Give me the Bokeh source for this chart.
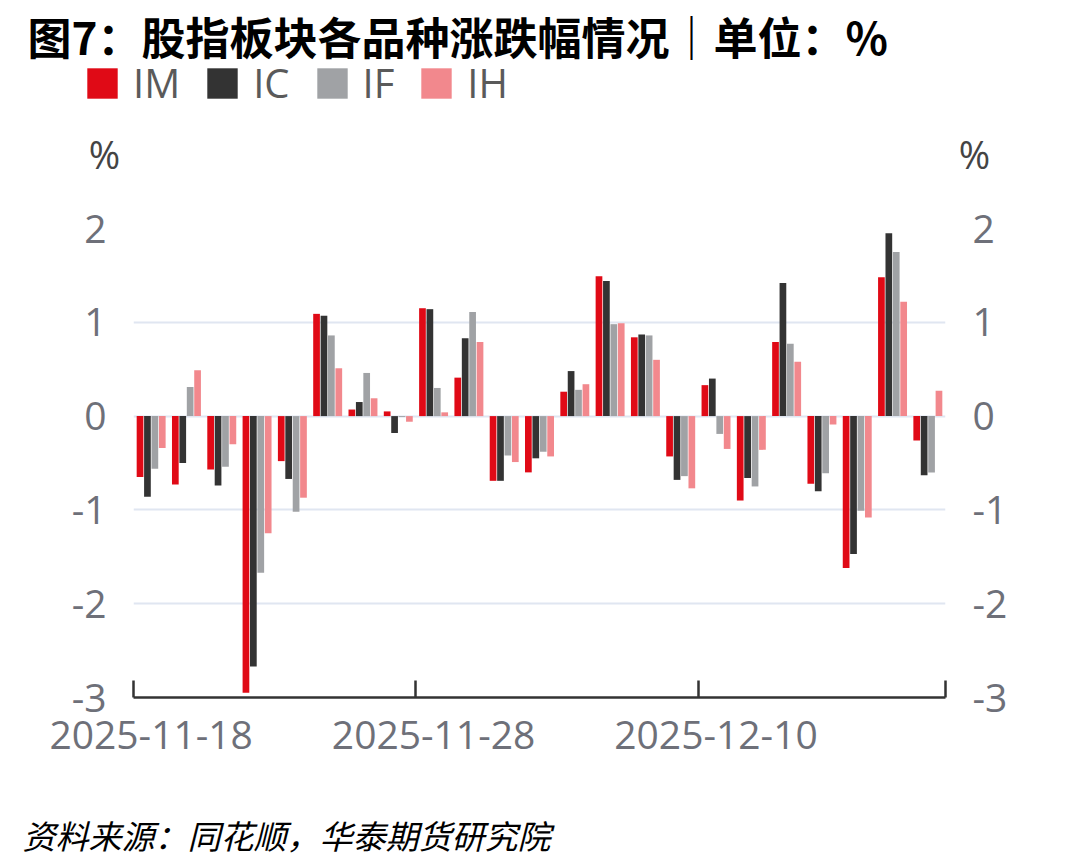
from bokeh.plotting import figure
from bokeh.layouts import column
from bokeh.models import (ColumnDataSource, Range1d, LinearAxis, FixedTicker, Label,
                          Legend, LegendItem, Grid)
from bokeh.transform import dodge
from bokeh.embed import file_html
from bokeh.resources import INLINE

# ---------------- data ----------------
dates = ["2025-11-18", "2025-11-19", "2025-11-20", "2025-11-21", "2025-11-24",
         "2025-11-25", "2025-11-26", "2025-11-27", "2025-11-28", "2025-12-01",
         "2025-12-02", "2025-12-03", "2025-12-04", "2025-12-05", "2025-12-08",
         "2025-12-09", "2025-12-10", "2025-12-11", "2025-12-12", "2025-12-15",
         "2025-12-16", "2025-12-17", "2025-12-18"]
im = [-0.65, -0.73, -0.57, -2.95, -0.48, 1.09, 0.07, 0.05, 1.15, 0.41, -0.69, -0.60,
      0.26, 1.49, 0.84, -0.43, 0.33, -0.90, 0.79, -0.72, -1.62, 1.48, -0.26]
ic = [-0.86, -0.50, -0.74, -2.67, -0.67, 1.07, 0.15, -0.18, 1.14, 0.83, -0.69, -0.45,
      0.48, 1.44, 0.87, -0.68, 0.40, -0.66, 1.42, -0.80, -1.47, 1.95, -0.63]
if_ = [-0.56, 0.31, -0.54, -1.67, -1.02, 0.86, 0.46, -0.01, 0.30, 1.11, -0.42, -0.38,
       0.28, 0.98, 0.86, -0.64, -0.19, -0.75, 0.77, -0.61, -1.01, 1.75, -0.60]
ih = [-0.34, 0.49, -0.30, -1.25, -0.87, 0.51, 0.19, -0.06, 0.04, 0.79, -0.49, -0.43,
      0.34, 0.99, 0.60, -0.77, -0.35, -0.36, 0.58, -0.09, -1.08, 1.22, 0.27]
series_names = ["IM", "IC", "IF", "IH"]
y_ticks = [-3, -2, -1, 0, 1, 2]
y_tick_labels = ["-3", "-2", "-1", "0", "1", "2"]
y_unit = "%"
label_every = 8

title_text = "图7：股指板块各品种涨跌幅情况｜单位：%"
source_text = "资料来源：同花顺，华泰期货研究院"

# ---------------- styles ----------------
colors = ["#e00a16", "#333333", "#a0a2a5", "#f2888d"]
offsets = [-0.315, -0.105, 0.105, 0.315]
FONT = "Open Sans"
CJK = "Noto Sans CJK SC"
GRAY = "#6e7079"
W, H = 1078, 866
TOP_H = 195          # header band (title, legend, unit names)
BOT_H = 79           # footer band (source)
FRAME_TOP, FRAME_BOTTOM = 228, 697

n = len(dates)
src = ColumnDataSource(dict(x=list(range(n)), date=dates,
                            IM=im, IC=ic, IF=if_, IH=ih))


def blank(height):
    f = figure(width=W, height=height, x_range=Range1d(-0.5, n - 0.5), y_range=Range1d(-3, 2),
               output_backend="svg", toolbar_location=None,
               x_axis_type=None, y_axis_type=None, min_border=0)
    f.outline_line_color = None
    f.grid.visible = False
    return f


# ================= header =================
top = blank(TOP_H)
legend_rs = []
for name, color, off in zip(series_names, colors, offsets):
    r = top.vbar(x=dodge("x", off), top=name, bottom=0, width=0.19, source=src,
                 fill_color=color, line_color=None, visible=False)
    legend_rs.append(r)

legend = Legend(items=[LegendItem(label=nm, renderers=[r]) for nm, r in zip(series_names, legend_rs)],
                orientation="horizontal", location=(83, TOP_H - 110),
                glyph_width=38, glyph_height=38, label_standoff=12, spacing=23,
                padding=0, margin=0, border_line_color=None, background_fill_alpha=0,
                label_text_font_size="40px", label_text_color="#5a5a5a",
                label_text_font=FONT)
top.add_layout(legend, "center")

top.add_layout(Label(x=27, y=TOP_H - 35, x_units="screen", y_units="screen", text=title_text,
                     text_font=CJK, text_font_style="bold", text_font_size="44px",
                     text_baseline="middle", text_color="black"))
for xs in (104, 974):
    top.add_layout(Label(x=xs, y=TOP_H - 153, x_units="screen", y_units="screen", text=y_unit,
                         text_font=FONT, text_font_size="38px", text_align="center",
                         text_baseline="middle", text_color="#444444"))

# ================= main chart =================
p = figure(width=W, height=H - TOP_H - BOT_H,
           x_range=Range1d(-0.5, n - 0.5), y_range=Range1d(min(y_ticks), max(y_ticks)),
           output_backend="svg", toolbar_location=None,
           x_axis_type=None, y_axis_type=None,
           min_border_left=133, min_border_right=133,
           min_border_top=FRAME_TOP - TOP_H, min_border_bottom=H - BOT_H - FRAME_BOTTOM)
p.outline_line_color = None
p.background_fill_color = "white"
p.border_fill_color = "white"

p.add_layout(Grid(dimension=1, ticker=FixedTicker(ticks=y_ticks),
                  grid_line_color="#e0e6f1", grid_line_width=2))

y_over = {t: s for t, s in zip(y_ticks, y_tick_labels)}
for side in ("left", "right"):
    ax = LinearAxis(ticker=FixedTicker(ticks=y_ticks), major_label_overrides=y_over,
                    axis_line_color=None, major_tick_line_color=None,
                    minor_tick_line_color=None, major_tick_in=0, major_tick_out=0,
                    major_label_standoff=27, major_label_text_font_size="39px",
                    major_label_text_color=GRAY, major_label_text_font=FONT)
    p.add_layout(ax, side)

bounds = [i - 0.5 for i in range(0, n, label_every)] + [n - 0.5]
tick_axis = LinearAxis(ticker=FixedTicker(ticks=bounds),
                       major_label_overrides={b: "" for b in bounds},
                       axis_line_color="#333333", axis_line_width=2.5,
                       major_tick_line_color="#333333", major_tick_line_width=2.5,
                       major_tick_in=17, major_tick_out=0, minor_tick_line_color=None,
                       major_label_text_font_size="1px", major_label_standoff=0)
p.add_layout(tick_axis, "below")

lab_ticks = list(range(0, n, label_every))
lab_axis = LinearAxis(ticker=FixedTicker(ticks=lab_ticks),
                      major_label_overrides={i: dates[i] for i in lab_ticks},
                      axis_line_color=None, major_tick_line_color=None,
                      minor_tick_line_color=None, major_tick_in=0, major_tick_out=0,
                      major_label_standoff=23, major_label_text_font_size="39px",
                      major_label_text_color=GRAY, major_label_text_font=FONT)
p.add_layout(lab_axis, "below")

for name, color, off in zip(series_names, colors, offsets):
    p.vbar(x=dodge("x", off), top=name, bottom=0, width=0.19, source=src,
           fill_color=color, line_color=None)

# ================= footer =================
bot = blank(BOT_H)
bot.add_layout(Label(x=22, y=BOT_H - (834 - (H - BOT_H)), x_units="screen", y_units="screen",
                     text=source_text, text_font=CJK, text_font_style="italic",
                     text_font_size="33px", text_baseline="middle", text_color="black"))

layout = column(column(top), p, column(bot), spacing=0)
open("out.html", "w").write(file_html(layout, INLINE))
